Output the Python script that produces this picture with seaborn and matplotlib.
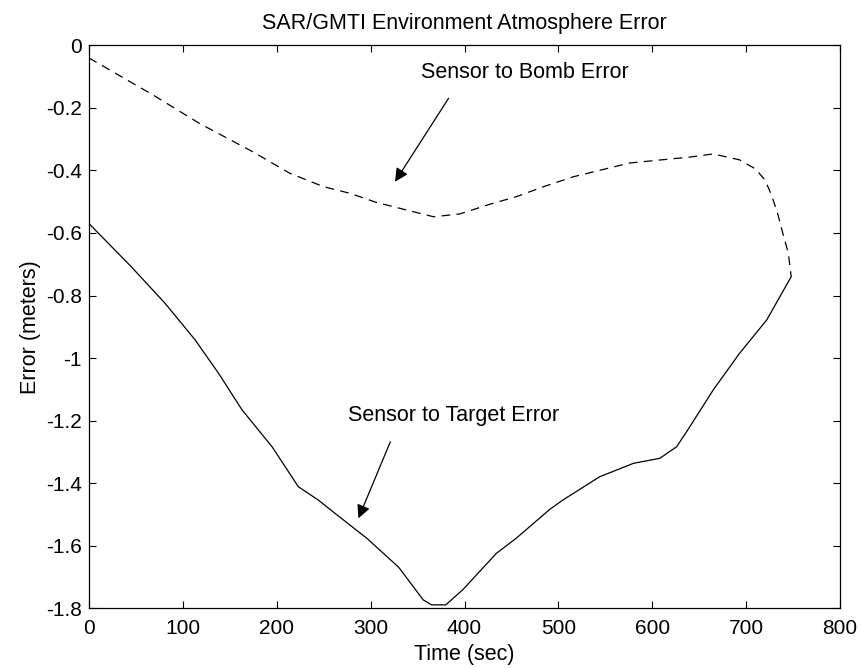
import pandas as pd
import matplotlib.pyplot as plt
import seaborn as sns

# значения
bomb_t = [0, 68, 118, 175, 214, 250, 278, 306, 335, 367, 395, 427, 455, 484, 516,
          576, 640, 665, 693, 710, 720, 727, 734, 739, 745, 748]
bomb_err = [-0.04, -0.158, -0.25, -0.341, -0.409, -0.452, -0.473, -0.502, -0.524, -0.548,
            -0.539, -0.508, -0.484, -0.452, -0.42, -0.376, -0.357, -0.347, -0.366, -0.395,
            -0.43, -0.478, -0.542, -0.60, -0.665, -0.74]

target_t = [0, 45, 81, 113, 138, 163, 195, 223, 244, 262, 296, 330, 356, 365, 380, 398,
            434, 455, 491, 505, 544, 580, 608, 626, 640, 665, 693, 722, 748]
target_err = [-0.57, -0.708, -0.825, -0.942, -1.049, -1.166, -1.284, -1.412, -1.454, -1.497,
              -1.577, -1.67, -1.774, -1.79, -1.79, -1.742, -1.625, -1.577, -1.484, -1.454,
              -1.38, -1.337, -1.321, -1.284, -1.22, -1.102, -0.985, -0.878, -0.74]

x_ticks = [0, 100, 200, 300, 400, 500, 600, 700, 800]
y_ticks = [-1.8, -1.6, -1.4, -1.2, -1, -0.8, -0.6, -0.4, -0.2, 0]

sns.set_style('ticks')
plt.rcParams['font.family'] = ['Liberation Sans', 'DejaVu Sans']
plt.rcParams['axes.unicode_minus'] = False
plt.rcParams['text.color'] = 'black'
plt.rcParams['axes.labelcolor'] = 'black'

bomb = pd.DataFrame({'t': bomb_t, 'err': bomb_err})
target = pd.DataFrame({'t': target_t, 'err': target_err})

fig = plt.figure(figsize=(8.61, 6.68), dpi=100)
ax = fig.add_axes([0.1034, 0.0898, 0.8722, 0.8421])

sns.lineplot(data=bomb, x='t', y='err', ax=ax, color='black', lw=0.9,
             estimator=None, sort=False)
ax.lines[-1].set_dashes([7, 5])
sns.lineplot(data=target, x='t', y='err', ax=ax, color='black', lw=0.9,
             estimator=None, sort=False)

ax.set_xlim(0, 800)
ax.set_ylim(-1.8, 0)
ax.set_xticks(x_ticks)
ax.set_yticks(y_ticks)
ax.set_xticklabels(['%g' % v for v in x_ticks])
ax.set_yticklabels(['%g' % v for v in y_ticks])
ax.tick_params(direction='in', length=5, width=0.8, top=True, right=True,
               labelsize=15, colors='black')
ax.tick_params(axis='x', pad=8)
ax.tick_params(axis='y', pad=5)
for s in ax.spines.values():
    s.set_visible(True)
    s.set_linewidth(0.9)
    s.set_color('black')

fs = 15.5
ax.set_xlabel('Time (sec)', fontsize=fs, labelpad=4)
ax.set_ylabel('Error (meters)', fontsize=fs, labelpad=4)
ax.set_title('SAR/GMTI Environment Atmosphere Error', fontsize=fs, pad=12)

# подписи со стрелками
arrow = dict(arrowstyle='-|>', color='black', lw=0.9, mutation_scale=20, shrinkA=0, shrinkB=0)
ax.text(354, -0.085, 'Sensor to Bomb Error', fontsize=fs, va='center')
ax.annotate('', xy=(326, -0.436), xytext=(383, -0.169), arrowprops=arrow)
ax.text(276, -1.185, 'Sensor to Target Error', fontsize=fs, va='center')
ax.annotate('', xy=(287, -1.513), xytext=(321, -1.268), arrowprops=arrow)

fig.savefig('out.png', dpi=100)
